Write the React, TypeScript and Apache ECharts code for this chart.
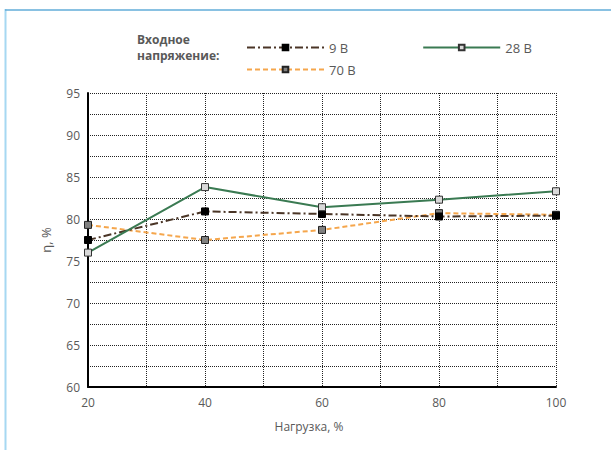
import React, { useEffect, useRef } from "react";
import * as echarts from "echarts";

const loads = [20, 40, 60, 80, 100];
const seriesNames = ["9 В", "28 В", "70 В"];
const eff9 = [77.5, 80.9, 80.6, 80.3, 80.4];
const eff28 = [76.0, 83.8, 81.4, 82.3, 83.3];
const eff70 = [79.3, 77.5, 78.7, 80.7, 80.5];
const legendTitle = ["Входное", "напряжение:"];
const xName = "Нагрузка, %";
const yName = "η, %";

const FONT = "Open Sans";
const GRAY = "#595959";

export default function App() {
  const ref = useRef<HTMLDivElement>(null);
  useEffect(() => {
    if (!ref.current) return;
    const chart = echarts.init(ref.current, null, { renderer: "svg" });
    const pair = (arr: number[]) => loads.map((x, i) => [x, arr[i]]);
    chart.setOption({
      animation: false,
      backgroundColor: "#ffffff",
      textStyle: { fontFamily: FONT },
      grid: { left: 88, right: 55, top: 93, bottom: 63 },
      legend: [
        {
          data: [seriesNames[0], seriesNames[1]],
          left: 241,
          top: 36,
          itemWidth: 77,
          itemHeight: 7,
          itemGap: 74,
          textStyle: { color: GRAY, fontSize: 13, fontFamily: FONT },
        },
        {
          data: [seriesNames[2]],
          left: 241,
          top: 58,
          itemWidth: 77,
          itemHeight: 7,
          textStyle: { color: GRAY, fontSize: 13, fontFamily: FONT },
        },
      ],
      graphic: [
        { type: "line", shape: { x1: 5.5, y1: 9, x2: 5.5, y2: 450 }, style: { stroke: "#a6d8f2", lineWidth: 2 } },
        { type: "line", shape: { x1: 5, y1: 10, x2: 611, y2: 10 }, style: { stroke: "#62acd9", lineWidth: 1.5 } },
        {
          type: "text",
          left: 137,
          top: 33,
          style: { text: legendTitle[0], fill: GRAY, font: `bold 12px "${FONT}"` },
        },
        {
          type: "text",
          left: 137,
          top: 49,
          style: { text: legendTitle[1], fill: GRAY, font: `bold 12px "${FONT}"` },
        },
      ],
      xAxis: {
        type: "value",
        min: 20,
        max: 100,
        interval: 10,
        name: xName,
        nameLocation: "middle",
        nameGap: 33,
        nameTextStyle: { color: GRAY, fontSize: 12, fontFamily: FONT, padding: [0, 26, 0, 0] },
        axisLine: { show: true, lineStyle: { color: "#000", width: 2 } },
        axisTick: { show: false },
        axisLabel: {
          color: GRAY,
          fontSize: 12,
          margin: 9,
          formatter: (v: number) => (v % 20 === 0 ? String(v) : ""),
        },
        splitLine: { show: true, lineStyle: { color: "#222", type: [1, 1], width: 1 } },
      },
      yAxis: {
        type: "value",
        min: 60,
        max: 95,
        interval: 2.5,
        name: yName,
        nameLocation: "middle",
        nameGap: 36,
        nameTextStyle: { color: GRAY, fontSize: 13, fontFamily: FONT },
        axisLine: { show: true, lineStyle: { color: "#000", width: 2 } },
        axisTick: { show: false },
        axisLabel: {
          color: GRAY,
          fontSize: 12,
          margin: 8,
          formatter: (v: number) => (Math.abs(v % 5) < 1e-9 ? String(v) : ""),
        },
        splitLine: { show: true, lineStyle: { color: "#222", type: [1, 1], width: 1 } },
      },
      series: [
        {
          name: seriesNames[0],
          type: "line",
          data: pair(eff9),
          symbol: "rect",
          symbolSize: 7,
          z: 3,
          lineStyle: { color: "#4a3526", width: 2, type: [8, 3, 2, 3] },
          itemStyle: { color: "#000000", borderColor: "#000000", borderWidth: 1 },
        },
        {
          name: seriesNames[1],
          type: "line",
          data: pair(eff28),
          symbol: "rect",
          symbolSize: 7,
          z: 4,
          lineStyle: { color: "#3a7a52", width: 2, type: "solid" },
          itemStyle: { color: "#d9d9d9", borderColor: "#333333", borderWidth: 1 },
        },
        {
          name: seriesNames[2],
          type: "line",
          data: pair(eff70),
          symbol: "rect",
          symbolSize: 7,
          z: 2,
          lineStyle: { color: "#f5a64c", width: 2, type: [5, 3] },
          itemStyle: { color: "#808080", borderColor: "#222222", borderWidth: 1 },
        },
      ],
    });
    return () => chart.dispose();
  }, []);
  return (
    <div
      ref={ref}
      style={{ position: "absolute", left: 0, top: 0, width: 611, height: 450 }}
    />
  );
}
